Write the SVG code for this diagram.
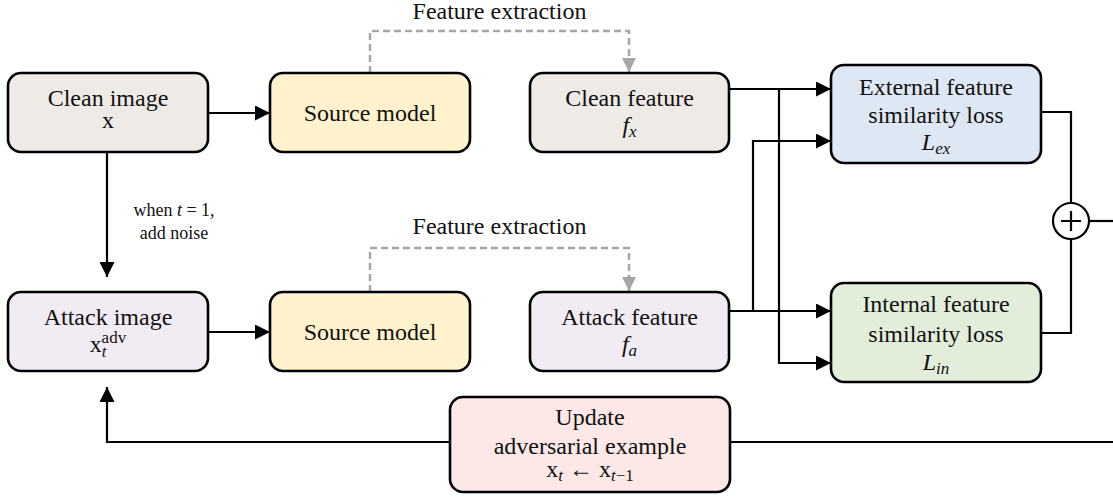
<svg xmlns="http://www.w3.org/2000/svg" width="1113" height="502" viewBox="0 0 1113 502" font-family="'Liberation Serif', 'DejaVu Serif', serif">
  <style>
    text { font-family: 'Liberation Serif', 'DejaVu Serif', serif; font-size: 24px; fill: #111; text-anchor: middle; }
    .it { font-style: italic; }
    .sub { font-size: 17px; }
    .small { font-size: 18px; }
    .box { stroke: #000; stroke-width: 2.6; }
    .gray { fill: #eeeae6; }
    .yellow { fill: #fff2cc; }
    .blue { fill: #dee8f4; }
    .purple { fill: #f1ebf4; }
    .green { fill: #e2eeda; }
    .pink { fill: #fde8e8; }
    .conn { fill: none; stroke: #000; stroke-width: 2.2; }
    .dash { fill: none; stroke: #a6a6a6; stroke-width: 2.5; stroke-dasharray: 7 4; }
  </style>
  <defs>
    <marker id="arrow" viewBox="0 0 10 10" refX="10" refY="5" markerUnits="userSpaceOnUse" markerWidth="15" markerHeight="15" orient="auto">
      <path d="M0,0 L10,5 L0,10 z" fill="#000"/>
    </marker>
    <marker id="arrow-gray" viewBox="0 0 10 10" refX="10" refY="5" markerUnits="userSpaceOnUse" markerWidth="14" markerHeight="15" orient="auto">
      <path d="M0,0 L10,5 L0,10 z" fill="#a6a6a6"/>
    </marker>
  </defs>

  <!-- feature extraction labels and dashed links -->
  <g id="feature-extraction">
    <text x="499.5" y="19" font-size="23">Feature extraction</text>
    <path class="dash" d="M370,73 V31 H629 V59" />
    <path class="dash" d="M629,58 V72" stroke-dasharray="none" marker-end="url(#arrow-gray)"/>
    <text x="499.5" y="234" font-size="23">Feature extraction</text>
    <path class="dash" d="M370,292 V248 H629 V277" />
    <path class="dash" d="M629,276 V291" stroke-dasharray="none" marker-end="url(#arrow-gray)"/>
  </g>

  <!-- connectors -->
  <g id="connectors">
    <path class="conn" d="M208,113 H270" marker-end="url(#arrow)"/>
    <path class="conn" d="M208,332 H270" marker-end="url(#arrow)"/>
    <path class="conn" d="M107,152 V277" marker-end="url(#arrow)"/>
    <path class="conn" d="M450,442 H107 V387" marker-end="url(#arrow)"/>
    <path class="conn" d="M1113,442 H730"/>
    <path class="conn" d="M729,89 H831" marker-end="url(#arrow)"/>
    <path class="conn" d="M779,89 V363 H831" marker-end="url(#arrow)"/>
    <path class="conn" d="M729,311 H831" marker-end="url(#arrow)"/>
    <path class="conn" d="M753,311 V141 H831" marker-end="url(#arrow)"/>
    <path class="conn" d="M1041,112 H1071 V203"/>
    <path class="conn" d="M1041,333 H1071 V239"/>
    <path class="conn" d="M1089,221 H1113"/>
    <text class="small" x="174" y="216">when <tspan class="it">t</tspan> = 1,</text>
    <text class="small" x="174" y="239">add noise</text>
  </g>

  <g id="sum">
    <circle cx="1071" cy="221" r="18" fill="#fff" stroke="#000" stroke-width="2.2"/>
    <path class="conn" d="M1061,221 H1081 M1071,211 V231"/>
  </g>

  <g id="clean-image">
    <rect class="box gray" x="8" y="73" width="200" height="79" rx="13"/>
    <text x="108" y="106">Clean image</text>
    <text x="108" y="128">x</text>
  </g>

  <g id="source-model-1">
    <rect class="box yellow" x="270" y="73" width="200" height="79" rx="13"/>
    <text x="370" y="121">Source model</text>
  </g>

  <g id="clean-feature">
    <rect class="box gray" x="530" y="73" width="199" height="79" rx="13"/>
    <text x="629.5" y="106">Clean feature</text>
    <text x="629.5" y="133"><tspan class="it">f</tspan><tspan class="it sub" dy="4">x</tspan></text>
  </g>

  <g id="external-loss">
    <rect class="box blue" x="831" y="65" width="210" height="98" rx="13"/>
    <text x="936" y="95">External feature</text>
    <text x="936" y="123">similarity loss</text>
    <text x="936" y="150"><tspan class="it">L</tspan><tspan class="it sub" dy="4">ex</tspan></text>
  </g>

  <g id="attack-image">
    <rect class="box purple" x="8" y="292" width="200" height="79" rx="13"/>
    <text x="108" y="325">Attack image</text>
    <text x="108" y="352">x<tspan class="it sub" dy="5">t</tspan><tspan class="sub" dx="-5" dy="-14">adv</tspan></text>
  </g>

  <g id="source-model-2">
    <rect class="box yellow" x="270" y="292" width="200" height="79" rx="13"/>
    <text x="370" y="340">Source model</text>
  </g>

  <g id="attack-feature">
    <rect class="box purple" x="530" y="292" width="199" height="79" rx="13"/>
    <text x="629.5" y="325">Attack feature</text>
    <text x="629.5" y="352"><tspan class="it">f</tspan><tspan class="it sub" dy="4">a</tspan></text>
  </g>

  <g id="internal-loss">
    <rect class="box green" x="831" y="283" width="210" height="99" rx="13"/>
    <text x="936" y="312">Internal feature</text>
    <text x="936" y="342">similarity loss</text>
    <text x="936" y="370"><tspan class="it">L</tspan><tspan class="it sub" dy="4">in</tspan></text>
  </g>

  <g id="update">
    <rect class="box pink" x="450" y="397" width="280" height="95" rx="13"/>
    <text x="590" y="425">Update</text>
    <text x="590" y="454">adversarial example</text>
    <text x="590" y="477">x<tspan class="it sub" dy="4">t</tspan><tspan dy="-4"> ← x</tspan><tspan class="sub" dy="4"><tspan class="it">t</tspan>−1</tspan></text>
  </g>
</svg>
